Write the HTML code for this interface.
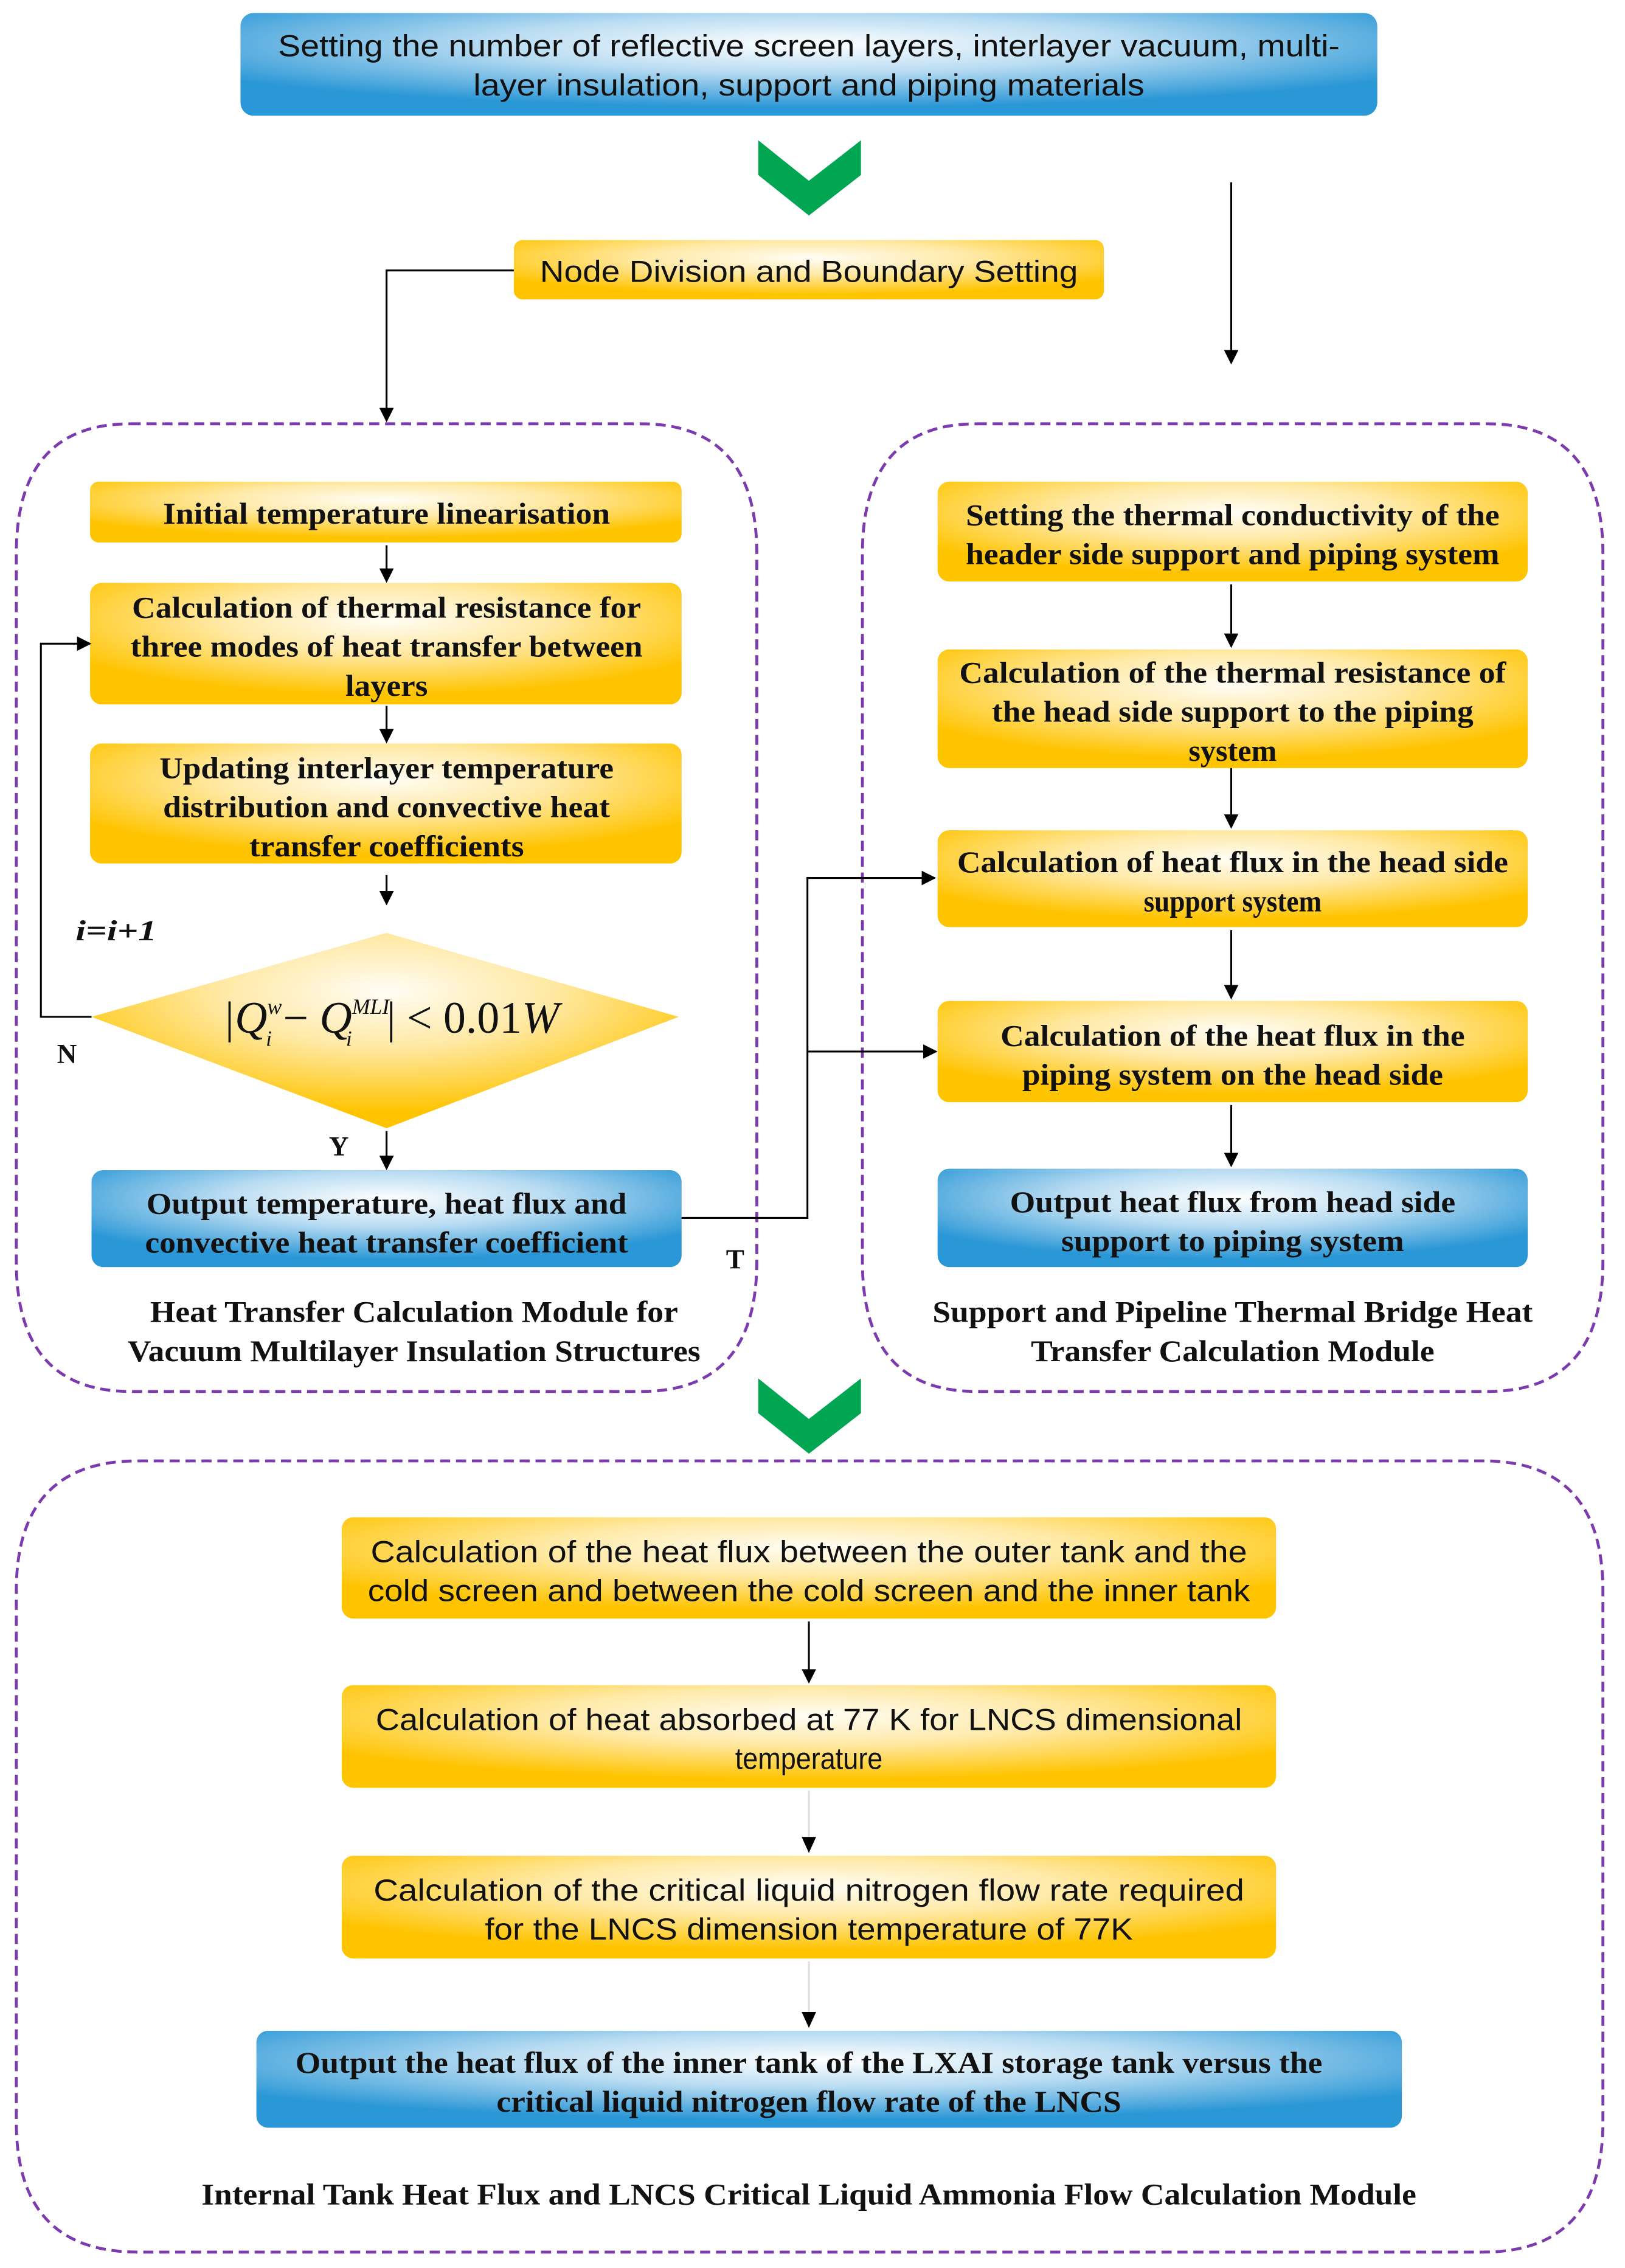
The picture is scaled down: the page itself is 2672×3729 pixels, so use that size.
<!DOCTYPE html>
<html><head><meta charset="utf-8"><style>html,body{margin:0;padding:0;background:#fff}svg{display:block}</style></head>
<body>
<svg xmlns="http://www.w3.org/2000/svg" width="2672" height="3729" viewBox="0 0 1123 1568">
<defs>
<radialGradient id="y" cx="50%" cy="30%" r="62%"><stop offset="0" stop-color="#fffdf5"/><stop offset="0.45" stop-color="#ffe9a6"/><stop offset="1" stop-color="#ffc400"/></radialGradient>
<radialGradient id="b" cx="50%" cy="30%" r="62%"><stop offset="0" stop-color="#ffffff"/><stop offset="0.45" stop-color="#b9dcf2"/><stop offset="1" stop-color="#2a97d6"/></radialGradient>
<marker id="a" markerWidth="10" markerHeight="10" refX="9" refY="5" orient="auto" markerUnits="userSpaceOnUse"><path d="M0,0 L10,5 L0,10 z" fill="#000"/></marker>
</defs>
<g font-family="Liberation Sans, sans-serif" fill="#111" text-anchor="middle">
<rect x="166" y="9" width="786" height="71" rx="9" fill="url(#b)"/>
<text x="559" y="39" font-size="21" textLength="734" lengthAdjust="spacingAndGlyphs">Setting the number of reflective screen layers, interlayer vacuum, multi-</text>
<text x="559" y="66" font-size="21" textLength="464" lengthAdjust="spacingAndGlyphs">layer insulation, support and piping materials</text>
<polygon points="524,97 559,125 595,97 595,121 559,149 524,121" fill="#00a651"/>
<polygon points="524,953 559,981 595,953 595,977 559,1005 524,977" fill="#00a651"/>
<rect x="355" y="166" width="408" height="41" rx="6" fill="url(#y)"/>
<text x="559" y="195" font-size="21" textLength="372" lengthAdjust="spacingAndGlyphs">Node Division and Boundary Setting</text>
<g stroke="#000" stroke-width="1.3" fill="none">
<polyline points="355,187 267,187 267,291" marker-end="url(#a)"/>
<line x1="851" y1="126" x2="851" y2="251" marker-end="url(#a)"/>
</g>
<g fill="none" stroke="#7b3aae" stroke-width="2" stroke-dasharray="7,4">
<path d="M90,293 H443 Q523,293 523,383 V872 Q523,962 443,962 H90 Q11,962 11,872 V383 Q11,293 90,293 Z"/>
<path d="M675,293 H1028 Q1108,293 1108,383 V872 Q1108,962 1028,962 H675 Q596,962 596,872 V383 Q596,293 675,293 Z"/>
<path d="M95,1010 H1025 Q1108,1010 1108,1100 V1467 Q1108,1557 1025,1557 H95 Q11,1557 11,1467 V1100 Q11,1010 95,1010 Z"/>
</g>
</g>
<g font-family="Liberation Serif, serif" font-weight="bold" fill="#111" text-anchor="middle" font-size="21">
<rect x="62" y="333" width="409" height="42" rx="6" fill="url(#y)"/>
<text x="267" y="362" textLength="309" lengthAdjust="spacingAndGlyphs">Initial temperature linearisation</text>
<rect x="62" y="403" width="409" height="84" rx="8" fill="url(#y)"/>
<text x="267" y="427" textLength="352" lengthAdjust="spacingAndGlyphs">Calculation of thermal resistance for</text>
<text x="267" y="454" textLength="354" lengthAdjust="spacingAndGlyphs">three modes of heat transfer between</text>
<text x="267" y="481" textLength="57" lengthAdjust="spacingAndGlyphs">layers</text>
<rect x="62" y="514" width="409" height="83" rx="8" fill="url(#y)"/>
<text x="267" y="538" textLength="314" lengthAdjust="spacingAndGlyphs">Updating interlayer temperature</text>
<text x="267" y="565" textLength="309" lengthAdjust="spacingAndGlyphs">distribution and convective heat</text>
<text x="267" y="592" textLength="190" lengthAdjust="spacingAndGlyphs">transfer coefficients</text>
<polygon points="267,645 469,703 267,780 63,703" fill="url(#y)"/>
<text x="270" y="714" font-weight="normal" font-style="italic" font-size="31">|Q<tspan font-size="15" dy="-13">w</tspan><tspan font-size="15" dy="22" dx="-11">i</tspan><tspan dy="-9" font-style="normal"> − </tspan>Q<tspan font-size="15" dy="-13">MLI</tspan><tspan font-size="15" dy="22" dx="-30">i</tspan><tspan dy="-9" dx="24" font-style="normal">| &lt; 0.01</tspan>W</text>
<text x="80" y="650" font-style="italic" font-size="20" textLength="56" lengthAdjust="spacingAndGlyphs">i=i+1</text>
<text x="46" y="735" font-size="19">N</text>
<text x="234" y="799" font-size="19">Y</text>
<text x="508" y="877" font-size="19">T</text>
<rect x="63" y="809" width="408" height="67" rx="8" fill="url(#b)"/>
<text x="267" y="839" textLength="332" lengthAdjust="spacingAndGlyphs">Output temperature, heat flux and</text>
<text x="267" y="866" textLength="334" lengthAdjust="spacingAndGlyphs">convective heat transfer coefficient</text>
<text x="286" y="914" textLength="365" lengthAdjust="spacingAndGlyphs">Heat Transfer Calculation Module for</text>
<text x="286" y="941" textLength="396" lengthAdjust="spacingAndGlyphs">Vacuum Multilayer Insulation Structures</text>
<rect x="648" y="333" width="408" height="69" rx="8" fill="url(#y)"/>
<text x="852" y="363" textLength="369" lengthAdjust="spacingAndGlyphs">Setting the thermal conductivity of the</text>
<text x="852" y="390" textLength="369" lengthAdjust="spacingAndGlyphs">header side support and piping system</text>
<rect x="648" y="449" width="408" height="82" rx="8" fill="url(#y)"/>
<text x="852" y="472" textLength="378" lengthAdjust="spacingAndGlyphs">Calculation of the thermal resistance of</text>
<text x="852" y="499" textLength="333" lengthAdjust="spacingAndGlyphs">the head side support to the piping</text>
<text x="852" y="526" textLength="61" lengthAdjust="spacingAndGlyphs">system</text>
<rect x="648" y="574" width="408" height="67" rx="8" fill="url(#y)"/>
<text x="852" y="603" textLength="381" lengthAdjust="spacingAndGlyphs">Calculation of heat flux in the head side</text>
<text x="852" y="630" textLength="123" lengthAdjust="spacingAndGlyphs">support system</text>
<rect x="648" y="692" width="408" height="70" rx="8" fill="url(#y)"/>
<text x="852" y="723" textLength="321" lengthAdjust="spacingAndGlyphs">Calculation of the heat flux in the</text>
<text x="852" y="750" textLength="291" lengthAdjust="spacingAndGlyphs">piping system on the head side</text>
<rect x="648" y="808" width="408" height="68" rx="8" fill="url(#b)"/>
<text x="852" y="838" textLength="308" lengthAdjust="spacingAndGlyphs">Output heat flux from head side</text>
<text x="852" y="865" textLength="237" lengthAdjust="spacingAndGlyphs">support to piping system</text>
<text x="852" y="914" textLength="415" lengthAdjust="spacingAndGlyphs">Support and Pipeline Thermal Bridge Heat</text>
<text x="852" y="941" textLength="279" lengthAdjust="spacingAndGlyphs">Transfer Calculation Module</text>
<rect x="177" y="1404" width="792" height="67" rx="8" fill="url(#b)"/>
<text x="559" y="1433" textLength="710" lengthAdjust="spacingAndGlyphs">Output the heat flux of the inner tank of the LXAI storage tank versus the</text>
<text x="559" y="1460" textLength="432" lengthAdjust="spacingAndGlyphs">critical liquid nitrogen flow rate of the LNCS</text>
<text x="559" y="1524" textLength="840" lengthAdjust="spacingAndGlyphs">Internal Tank Heat Flux and LNCS Critical Liquid Ammonia Flow Calculation Module</text>
</g>
<g font-family="Liberation Sans, sans-serif" fill="#111" text-anchor="middle" font-size="21">
<rect x="236" y="1049" width="646" height="70" rx="8" fill="url(#y)"/>
<text x="559" y="1080" textLength="606" lengthAdjust="spacingAndGlyphs">Calculation of the heat flux between the outer tank and the</text>
<text x="559" y="1107" textLength="610" lengthAdjust="spacingAndGlyphs">cold screen and between the cold screen and the inner tank</text>
<rect x="236" y="1165" width="646" height="71" rx="8" fill="url(#y)"/>
<text x="559" y="1196" textLength="599" lengthAdjust="spacingAndGlyphs">Calculation of heat absorbed at 77 K for LNCS dimensional</text>
<text x="559" y="1223" textLength="102" lengthAdjust="spacingAndGlyphs">temperature</text>
<rect x="236" y="1283" width="646" height="71" rx="8" fill="url(#y)"/>
<text x="559" y="1314" textLength="602" lengthAdjust="spacingAndGlyphs">Calculation of the critical liquid nitrogen flow rate required</text>
<text x="559" y="1341" textLength="448" lengthAdjust="spacingAndGlyphs">for the LNCS dimension temperature of 77K</text>
</g>
<g stroke="#000" stroke-width="1.3" fill="none">
<line x1="267" y1="377" x2="267" y2="402" marker-end="url(#a)"/>
<line x1="267" y1="488" x2="267" y2="513" marker-end="url(#a)"/>
<line x1="267" y1="605" x2="267" y2="625" marker-end="url(#a)"/>
<polyline points="63,703 28,703 28,445 62,445" marker-end="url(#a)"/>
<line x1="267" y1="782" x2="267" y2="808" marker-end="url(#a)"/>
<polyline points="471,842 558,842 558,607 646,607" marker-end="url(#a)"/>
<line x1="558" y1="727" x2="647" y2="727" marker-end="url(#a)"/>
<line x1="851" y1="404" x2="851" y2="447" marker-end="url(#a)"/>
<line x1="851" y1="531" x2="851" y2="572" marker-end="url(#a)"/>
<line x1="851" y1="643" x2="851" y2="690" marker-end="url(#a)"/>
<line x1="851" y1="764" x2="851" y2="806" marker-end="url(#a)"/>
<line x1="559" y1="1121" x2="559" y2="1163" marker-end="url(#a)"/>
<line x1="559" y1="1238" x2="559" y2="1281" stroke="#ddd"/>
<line x1="559" y1="1356" x2="559" y2="1401" stroke="#ddd"/>
</g>
<path d="M554,1270 L564,1270 L559,1281 z M554,1391 L564,1391 L559,1402 z" fill="#000"/>
</svg>
</body></html>
